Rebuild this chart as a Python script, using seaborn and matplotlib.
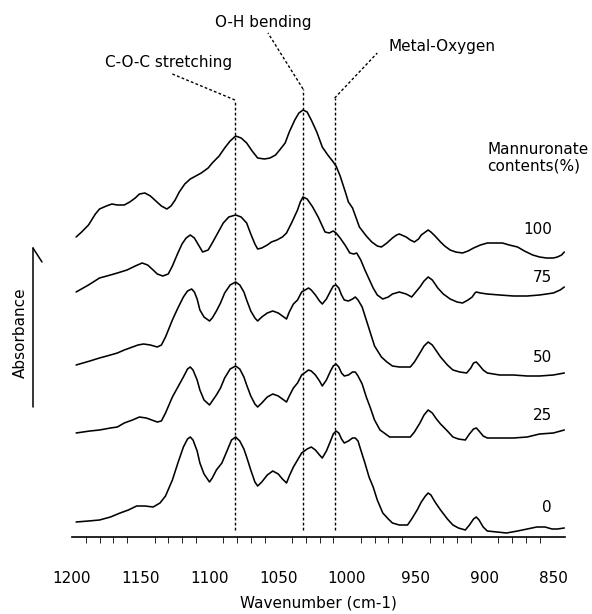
import numpy as np
import pandas as pd
import matplotlib
matplotlib.use("Agg")
import matplotlib.pyplot as plt
from matplotlib.lines import Line2D
import seaborn as sns

# FT-IR spectra of alginate films, stacked by mannuronate content (%)
# each entry: (wavenumber cm-1, offset absorbance)
contents = ["100", "75", "50", "25", "0"]

spec_100 = [(1197, 3.08), (1193, 3.13), (1188, 3.20), (1183, 3.31), (1180, 3.36), (1175, 3.39),
            (1171, 3.41), (1167, 3.40), (1162, 3.40), (1158, 3.43), (1154, 3.47), (1151, 3.51),
            (1147, 3.52), (1143, 3.49), (1139, 3.44), (1135, 3.39), (1131, 3.36), (1128, 3.39),
            (1125, 3.45), (1122, 3.53), (1118, 3.61), (1114, 3.66), (1110, 3.69), (1106, 3.72),
            (1101, 3.77), (1098, 3.82), (1093, 3.89), (1089, 3.97), (1085, 4.04), (1081, 4.09),
            (1077, 4.07), (1073, 4.02), (1069, 3.94), (1065, 3.87), (1060, 3.86), (1056, 3.87),
            (1052, 3.90), (1049, 3.95), (1045, 4.02), (1042, 4.13), (1038, 4.25), (1035, 4.32),
            (1032, 4.35), (1029, 4.33), (1026, 4.25), (1022, 4.13), (1018, 3.98), (1014, 3.90),
            (1010, 3.83), (1008, 3.79), (1005, 3.69), (1001, 3.52), (999, 3.43), (996, 3.37),
            (991, 3.18), (986, 3.09), (982, 3.03), (978, 2.99), (975, 2.98), (971, 3.02),
            (967, 3.07), (964, 3.10), (962, 3.11), (957, 3.08), (954, 3.05), (951, 3.03),
            (948, 3.06), (946, 3.10), (943, 3.13), (941, 3.15), (939, 3.13), (936, 3.09),
            (932, 3.03), (929, 2.99), (925, 2.95), (921, 2.93), (916, 2.92), (912, 2.94),
            (908, 2.97), (903, 3.00), (898, 3.02), (892, 3.02), (887, 3.02), (882, 3.00),
            (876, 2.98), (871, 2.94), (865, 2.90), (860, 2.88), (855, 2.87), (850, 2.87),
            (847, 2.88), (844, 2.90), (842, 2.93)]

spec_75 = [(1197, 2.53), (1188, 2.60), (1180, 2.67), (1172, 2.70), (1167, 2.72), (1160, 2.75),
           (1154, 2.79), (1149, 2.82), (1145, 2.80), (1141, 2.75), (1138, 2.71), (1134, 2.69),
           (1130, 2.71), (1127, 2.79), (1123, 2.92), (1120, 3.01), (1117, 3.07), (1114, 3.10),
           (1111, 3.07), (1108, 3.00), (1105, 2.93), (1101, 2.95), (1098, 3.02), (1094, 3.12),
           (1090, 3.22), (1086, 3.28), (1081, 3.30), (1077, 3.28), (1073, 3.22), (1070, 3.11),
           (1067, 3.01), (1065, 2.96), (1062, 2.97), (1058, 3.00), (1055, 3.03), (1051, 3.05),
           (1047, 3.08), (1044, 3.12), (1040, 3.23), (1036, 3.35), (1034, 3.43), (1032, 3.48),
           (1029, 3.46), (1025, 3.38), (1021, 3.28), (1018, 3.19), (1016, 3.13), (1013, 3.12),
           (1010, 3.14), (1008, 3.12), (1005, 3.07), (1001, 2.99), (998, 2.92), (995, 2.91),
           (993, 2.92), (990, 2.85), (987, 2.75), (984, 2.66), (981, 2.57), (978, 2.50),
           (974, 2.46), (970, 2.48), (967, 2.51), (962, 2.53), (957, 2.51), (953, 2.48),
           (950, 2.53), (947, 2.58), (944, 2.64), (941, 2.68), (938, 2.65), (934, 2.57),
           (930, 2.51), (925, 2.46), (920, 2.43), (916, 2.42), (912, 2.45), (909, 2.48),
           (907, 2.52), (906, 2.53), (903, 2.52), (898, 2.51), (889, 2.50), (879, 2.49),
           (869, 2.49), (860, 2.50), (850, 2.52), (845, 2.55), (842, 2.58)]

spec_50 = [(1197, 1.80), (1187, 1.84), (1180, 1.87), (1172, 1.90), (1167, 1.92), (1162, 1.95),
           (1156, 1.98), (1152, 2.00), (1148, 2.01), (1143, 2.00), (1138, 1.98), (1135, 2.00),
           (1132, 2.08), (1127, 2.25), (1123, 2.37), (1119, 2.48), (1116, 2.54), (1113, 2.56),
           (1111, 2.53), (1109, 2.46), (1107, 2.35), (1104, 2.28), (1100, 2.24), (1098, 2.27),
           (1095, 2.34), (1092, 2.42), (1089, 2.52), (1085, 2.60), (1081, 2.63), (1078, 2.60),
           (1075, 2.53), (1073, 2.45), (1070, 2.34), (1067, 2.27), (1065, 2.24), (1062, 2.28),
           (1058, 2.32), (1054, 2.34), (1050, 2.32), (1047, 2.29), (1044, 2.26), (1042, 2.33),
           (1039, 2.41), (1036, 2.45), (1033, 2.53), (1028, 2.57), (1026, 2.55), (1023, 2.50),
           (1020, 2.44), (1018, 2.41), (1015, 2.46), (1012, 2.54), (1010, 2.59), (1008, 2.60),
           (1006, 2.57), (1004, 2.50), (1002, 2.45), (999, 2.44), (996, 2.46), (994, 2.48),
           (992, 2.45), (989, 2.38), (986, 2.25), (983, 2.12), (980, 1.99), (975, 1.88),
           (971, 1.83), (967, 1.79), (962, 1.78), (954, 1.78), (951, 1.83), (947, 1.92),
           (944, 1.99), (941, 2.03), (938, 2.00), (935, 1.94), (932, 1.88), (927, 1.80),
           (923, 1.75), (918, 1.73), (913, 1.72), (910, 1.77), (908, 1.82), (906, 1.83),
           (904, 1.80), (901, 1.75), (898, 1.72), (889, 1.70), (879, 1.70), (869, 1.69),
           (860, 1.69), (850, 1.70), (842, 1.72)]

spec_25 = [(1197, 1.12), (1187, 1.14), (1180, 1.15), (1172, 1.17), (1167, 1.18), (1162, 1.22),
           (1156, 1.25), (1151, 1.28), (1146, 1.27), (1142, 1.25), (1138, 1.23), (1135, 1.24),
           (1132, 1.32), (1127, 1.48), (1123, 1.58), (1119, 1.68), (1116, 1.76), (1114, 1.78),
           (1112, 1.75), (1109, 1.65), (1107, 1.55), (1104, 1.45), (1100, 1.40), (1098, 1.44),
           (1095, 1.50), (1092, 1.57), (1089, 1.67), (1085, 1.76), (1081, 1.79), (1078, 1.76),
           (1075, 1.68), (1073, 1.60), (1070, 1.49), (1067, 1.41), (1065, 1.38), (1062, 1.42),
           (1058, 1.48), (1054, 1.51), (1050, 1.49), (1047, 1.46), (1044, 1.43), (1042, 1.49),
           (1039, 1.57), (1036, 1.62), (1033, 1.70), (1028, 1.75), (1026, 1.74), (1023, 1.70),
           (1020, 1.64), (1018, 1.59), (1015, 1.65), (1012, 1.74), (1010, 1.79), (1008, 1.81),
           (1006, 1.78), (1004, 1.72), (1002, 1.69), (999, 1.70), (996, 1.73), (994, 1.73),
           (992, 1.69), (989, 1.61), (986, 1.48), (983, 1.37), (980, 1.25), (976, 1.15),
           (972, 1.11), (969, 1.08), (962, 1.08), (954, 1.08), (951, 1.13), (947, 1.22),
           (944, 1.30), (941, 1.35), (938, 1.32), (935, 1.26), (932, 1.21), (927, 1.14),
           (923, 1.08), (919, 1.06), (914, 1.05), (911, 1.11), (908, 1.16), (906, 1.17),
           (904, 1.14), (901, 1.09), (898, 1.07), (889, 1.07), (879, 1.07), (869, 1.08),
           (860, 1.11), (850, 1.12), (842, 1.15)]

spec_0 = [(1197, 0.23), (1188, 0.24), (1180, 0.25), (1172, 0.28), (1165, 0.32), (1159, 0.35),
          (1153, 0.39), (1147, 0.39), (1141, 0.38), (1136, 0.42), (1132, 0.49), (1127, 0.65),
          (1123, 0.82), (1119, 0.98), (1116, 1.06), (1114, 1.08), (1112, 1.05), (1109, 0.94),
          (1107, 0.82), (1104, 0.71), (1100, 0.63), (1098, 0.67), (1095, 0.75), (1091, 0.82),
          (1087, 0.95), (1084, 1.05), (1081, 1.08), (1078, 1.04), (1075, 0.96), (1073, 0.88),
          (1070, 0.75), (1067, 0.63), (1065, 0.59), (1062, 0.63), (1058, 0.70), (1054, 0.74),
          (1050, 0.71), (1047, 0.66), (1044, 0.62), (1042, 0.69), (1039, 0.78), (1036, 0.85),
          (1033, 0.92), (1029, 0.96), (1026, 0.98), (1023, 0.95), (1020, 0.90), (1018, 0.87),
          (1015, 0.94), (1012, 1.04), (1010, 1.11), (1008, 1.14), (1006, 1.12), (1004, 1.06),
          (1002, 1.02), (999, 1.04), (996, 1.07), (994, 1.07), (992, 1.04), (990, 0.95),
          (987, 0.82), (984, 0.68), (981, 0.58), (978, 0.45), (974, 0.32), (970, 0.26),
          (967, 0.22), (962, 0.20), (956, 0.20), (953, 0.26), (949, 0.35), (946, 0.43),
          (943, 0.49), (941, 0.52), (939, 0.50), (936, 0.43), (932, 0.35), (927, 0.26),
          (923, 0.20), (919, 0.17), (914, 0.15), (911, 0.20), (908, 0.26), (906, 0.28),
          (904, 0.25), (901, 0.18), (898, 0.14), (891, 0.13), (884, 0.12), (876, 0.14),
          (869, 0.16), (862, 0.18), (856, 0.18), (851, 0.16), (847, 0.16), (842, 0.17)]

# Band assignments marked by dashed guide lines
bands = ["C-O-C stretching", "O-H bending", "Metal-Oxygen"]
band_wn = [1081.5, 1032, 1009]

xticks = [1200, 1150, 1100, 1050, 1000, 950, 900, 850]

frames = []
for name, spec in zip(contents, [spec_100, spec_75, spec_50, spec_25, spec_0]):
    wn, ab = zip(*spec)
    frames.append(pd.DataFrame({"wavenumber": wn, "absorbance": ab, "content": name}))
df = pd.concat(frames, ignore_index=True)

sns.set_theme(style="white")
plt.rcParams["font.family"] = ["DejaVu Sans"]
plt.rcParams["text.color"] = "black"
plt.rcParams["axes.labelcolor"] = "black"
plt.rcParams["xtick.color"] = "black"

fig = plt.figure(figsize=(5.92, 6.14), dpi=100)
ax = fig.add_axes([72 / 592, 1 - 537 / 614, (565 - 72) / 592, (537 - 10) / 614])

sns.lineplot(data=df, x="wavenumber", y="absorbance", hue="content",
             palette=["black"] * len(contents), estimator=None, sort=False,
             linewidth=1.15, legend=False, ax=ax)
for ln in ax.lines:
    ln.set_solid_joinstyle("round")

ax.set_xlim(1200, 841.5)
ax.set_ylim(0.08, 5.35)

for s in ["top", "left", "right"]:
    ax.spines[s].set_visible(False)
ax.spines["bottom"].set_color("black")
ax.spines["bottom"].set_linewidth(1.2)
ax.set_yticks([])
ax.set_ylabel("")
ax.set_xticks(xticks)
ax.set_xticks(np.arange(850, 1201, 10), minor=True)
ax.tick_params(axis="x", which="major", direction="out", length=8.5, width=0.8,
               color="black", pad=16, labelsize=11, labelcolor="black")
ax.tick_params(axis="x", which="minor", direction="out", length=4.3, width=0.6,
               color="black", bottom=True)
ax.set_xlabel("Wavenumber (cm-1)", fontsize=11, labelpad=7, color="black")

dash = dict(color="black", linestyle=(0, (2, 1.6)), linewidth=1.0)
# (band index, top of vertical guide, end of slanted leader)
leaders = [(0, 4.45, (1127, 4.71)), (1, 4.56, (1057.5, 5.12)), (2, 4.47, (978, 4.92))]
for i, ytop, (xe, ye) in leaders:
    ax.plot([band_wn[i], band_wn[i]], [0.15, ytop], **dash)
    ax.plot([band_wn[i], xe], [ytop, ye], **dash)

ax.text(1176, 4.82, bands[0], fontsize=11, ha="left", va="center")
ax.text(1061, 5.22, bands[1], fontsize=11, ha="center", va="center")
ax.text(969.5, 4.98, bands[2], fontsize=11, ha="left", va="center")
ax.text(898, 3.87, "Mannuronate\ncontents(%)", fontsize=11, ha="left", va="center",
        linespacing=1.1)

label_y = [3.15, 2.67, 1.88, 1.30, 0.37]
for name, yv in zip(contents, label_y):
    ax.text(851, yv, name, fontsize=11, ha="right", va="center")

# Absorbance arrow on the left
fig.add_artist(Line2D([33 / 592, 33 / 592], [1 - 407 / 614, 1 - 248 / 614],
                      color="black", linewidth=1.1))
fig.add_artist(Line2D([33 / 592, 42 / 592], [1 - 248 / 614, 1 - 262 / 614],
                      color="black", linewidth=1.1))
fig.text(20 / 592, 1 - 333 / 614, "Absorbance", rotation=90, fontsize=11,
         ha="center", va="center")

fig.savefig("out.png", dpi=100, facecolor="white")
